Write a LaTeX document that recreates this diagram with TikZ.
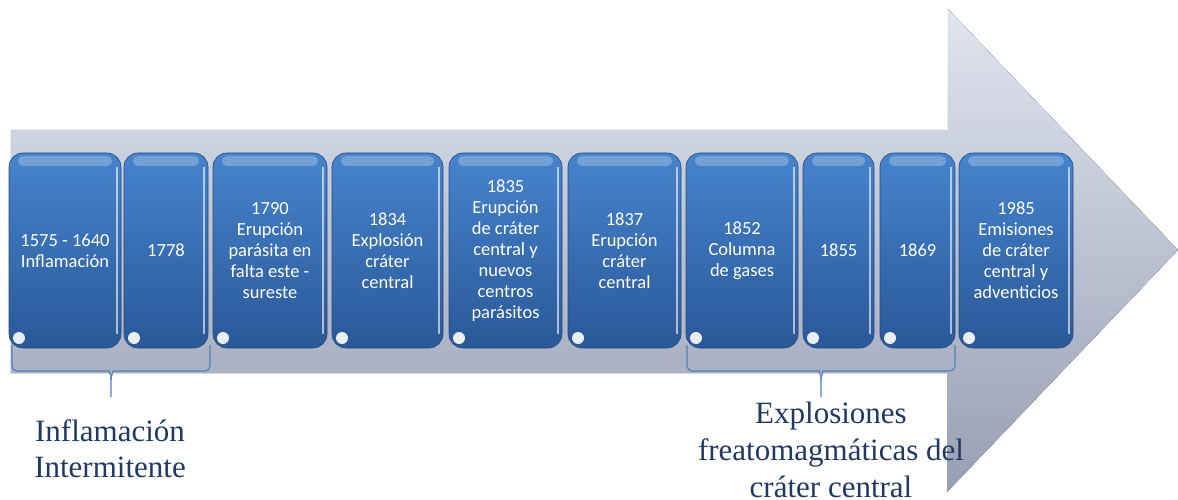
\documentclass[tikz,border=0pt]{standalone}
\usepackage{fontspec}
\setmainfont{Liberation Serif}
\newfontfamily\boxfont{Carlito}
\usetikzlibrary{calc}
\definecolor{arrowtop}{RGB}{224,229,239}
\definecolor{arrowbot}{RGB}{152,159,179}
\definecolor{boxtop}{RGB}{70,132,205}
\definecolor{boxbot}{RGB}{42,88,152}
\definecolor{bracecol}{RGB}{79,129,189}
\definecolor{labelcol}{RGB}{31,56,100}
\tikzset{
  yearbox/.style={rounded corners=14pt, minimum width=#1, minimum height=195pt,
    inner sep=0pt, align=center, text=white, font=\boxfont\fontsize{18.5}{21}\selectfont,
    top color=boxtop, bottom color=boxbot, draw=boxbot!85!black, line width=0.6pt,
    path picture={
      \fill[white,opacity=0.25,rounded corners=5pt]
        ([xshift=9pt,yshift=-3pt]path picture bounding box.north west) rectangle
        ([xshift=-9pt,yshift=-13pt]path picture bounding box.north east);
      \draw[white,opacity=0.6,line width=1.5pt]
        ([xshift=-4pt,yshift=-14pt]path picture bounding box.north east) --
        ([xshift=-4pt,yshift=14pt]path picture bounding box.south east);
      \fill[white,opacity=0.9]
        ([xshift=10pt,yshift=10pt]path picture bounding box.south west) circle (6pt);
    }},
  bracket/.style={draw=bracecol, line width=1.2pt, rounded corners=5pt},
  phase/.style={text=labelcol, font=\fontsize{31}{36}\selectfont, align=center,
    inner sep=0pt, anchor=north}
}
\begin{document}
\begin{tikzpicture}[x=1pt,y=-1pt]
    \useasboundingbox (0,0) rectangle (1178,500);
    \fill[top color=arrowtop, bottom color=arrowbot]
      (10,130) -- (947,130) -- (947,8) -- (1178,250) -- (947,492) -- (947,373) -- (10,373) -- cycle;
    \draw[white,opacity=0.6,line width=1pt] (10,373) -- (10,130) -- (947,130) -- (947,8);
    \node[yearbox=112pt] (y1575) at (65,250.5)   {1575 - 1640\\Inflamación};
    \node[yearbox=84pt]  (y1778) at (166,250.5)  {1778};
    \node[yearbox=114pt] (y1790) at (270,250.5)  {1790\\Erupción\\parásita en\\falta este -\\sureste};
    \node[yearbox=111pt] (y1834) at (387.5,250.5) {1834\\Explosión\\cráter\\central};
    \node[yearbox=113pt] (y1835) at (505.5,250.5) {1835\\Erupción\\de cráter\\central y\\nuevos\\centros\\parásitos};
    \node[yearbox=113pt] (y1837) at (624.5,250.5) {1837\\Erupción\\cráter\\central};
    \node[yearbox=112pt] (y1852) at (742,250.5)  {1852\\Columna\\de gases};
    \node[yearbox=71pt]  (y1855) at (838.5,250.5) {1855};
    \node[yearbox=75pt]  (y1869) at (917.5,250.5) {1869};
    \node[yearbox=114pt] (y1985) at (1016,250.5) {1985\\Emisiones\\de cráter\\central y\\adventicios};
    \coordinate (inflamtip) at (111,397);
    \coordinate (explostip) at (821,397);
    \draw[bracket] (12,345) -- (12,371) -- (104,371) to[out=0,in=90] (111,380) -- (inflamtip);
    \draw[bracket] (210,345) -- (210,371) -- (118,371) to[out=180,in=90] (111,380);
    \draw[bracket] (687,345) -- (687,371) -- (814,371) to[out=0,in=90] (821,380) -- (explostip);
    \draw[bracket] (955,345) -- (955,371) -- (828,371) to[out=180,in=90] (821,380);
    \node[phase] (inflam) at (110,419) {Inflamación\\Intermitente};
    \node[phase, font=\fontsize{31}{37}\selectfont] (explos) at (831,402) {Explosiones\\freatomagmáticas del\\cráter central};
  \end{tikzpicture}
\end{document}
